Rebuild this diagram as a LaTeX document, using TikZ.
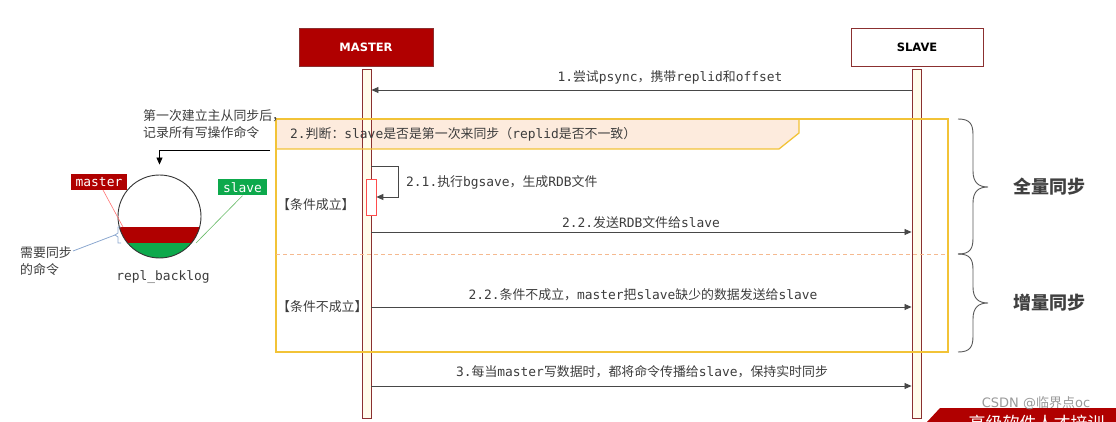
\documentclass[tikz,border=0pt]{standalone}
\usepackage{fontspec}
\setmainfont{DejaVu Sans Mono}
\newfontfamily\zhf{Noto Sans CJK SC}
\newfontfamily\hdf{DejaVu Sans}
\usetikzlibrary{arrows.meta,calc}
\newcommand\zh[1]{{\zhf #1}}
\definecolor{mred}{HTML}{B00000}
\definecolor{lline}{HTML}{8B3030}
\definecolor{cream}{HTML}{FFFCEB}
\definecolor{framec}{HTML}{F2C337}
\definecolor{tabfill}{HTML}{FDEBDD}
\definecolor{txt}{HTML}{3C3C3C}
\definecolor{grn}{HTML}{0DA94C}
\definecolor{dashc}{HTML}{F5B98F}
\definecolor{bluel}{HTML}{8CA8D0}
\tikzset{
  msg/.style={draw=black!72, line width=0.8pt, -{Triangle[length=7pt,width=6pt]}},
  lbl/.style={text=txt, inner sep=0pt},
  lifeline/.style={draw=lline, fill=cream, line width=0.9pt, minimum width=9pt, minimum height=349pt, inner sep=0pt},
  headbox/.style={draw=lline, line width=0.9pt, minimum width=134pt, minimum height=38pt, font=\hdf\bfseries\fontsize{11.5}{13}\selectfont},
  tagbox/.style={text=white, inner sep=0pt, minimum height=16pt},
  bracec/.style={draw=black!65, line width=0.9pt},
}
\begin{document}
\begin{tikzpicture}[x=1pt,y=-1pt,font=\fontsize{12.9}{15}\selectfont]
\useasboundingbox (0,0) rectangle (1116,422);

% header boxes
\node[headbox, fill=mred, text=white] (master) at (366,47) {MASTER};
\node[headbox, fill=white, text=black, minimum width=132pt] (slave) at (917,47) {SLAVE};

% tab fill (under lifelines)
\fill[tabfill] (276,119) -- (799,119) -- (799,133) -- (779,149) -- (276,149) -- cycle;

% lifelines
\node[lifeline] (mlife) at (366.5,243.5) {};
\node[lifeline] (slife) at (916.5,243.5) {};

% frame
\draw[framec, line width=1.3pt] (276,119) rectangle (948,352);
\draw[framec, line width=1.3pt] (799,119) -- (799,133) -- (779,149) -- (276,149);
\draw[dashc, line width=0.8pt, dash pattern=on 4pt off 3pt] (276,254) -- (948,254);

\node[lbl, anchor=west] (q2) at (290,134) {2.\zh{判断：}slave\zh{是否是第一次来同步（}replid\zh{是否不一致）}};

% message 1
\coordinate (y1) at (640,90);
\draw[msg] (slife.west |- y1) -- (mlife.east |- y1);
\node[lbl] (l1) at (670,77) {1.\zh{尝试}psync\zh{，携带}replid\zh{和}offset};

% self call 2.1
\node[draw=red!70!white, fill=white, line width=0.7pt, minimum width=10pt, minimum height=36pt, inner sep=0pt] (act) at (371,197) {};
\coordinate (sc) at (398,166);
\draw[msg] (mlife.east |- sc) -- (sc) -- (sc |- act.east) -- (act.east);
\node[lbl, anchor=west] (l21) at (406,182) {2.1.\zh{执行}bgsave\zh{，生成}RDB\zh{文件}};
\node[lbl, anchor=west] (c1) at (277,205) {\zh{【条件成立】}};

% 2.2
\coordinate (y22) at (640,232);
\draw[msg] (mlife.east |- y22) -- (slife.west |- y22);
\node[lbl] (l22) at (641,223) {2.2.\zh{发送}RDB\zh{文件给}slave};

% 2.2 b
\node[lbl, anchor=west] (c2) at (277,307) {\zh{【条件不成立】}};
\coordinate (y22b) at (640,307);
\draw[msg] (mlife.east |- y22b) -- (slife.west |- y22b);
\node[lbl] (l22b) at (643,295) {2.2.\zh{条件不成立，}master\zh{把}slave\zh{缺少的数据发送给}slave};

% 3
\coordinate (y3) at (640,386);
\draw[msg] (mlife.east |- y3) -- (slife.west |- y3);
\node[lbl] (l3) at (642,372) {3.\zh{每当}master\zh{写数据时，都将命令传播给}slave\zh{，保持实时同步}};

% braces
\draw[bracec] (958,119) .. controls (970,119) and (973,124) .. (973,135) -- (973,171)
   .. controls (973,182) and (978,187) .. (988,187)
   .. controls (978,187) and (973,192) .. (973,203) -- (973,238)
   .. controls (973,249) and (970,254) .. (958,254);
\draw[bracec] (958,254) .. controls (970,254) and (973,259) .. (973,270) -- (973,287)
   .. controls (973,298) and (978,303) .. (988,303)
   .. controls (978,303) and (973,308) .. (973,319) -- (973,336)
   .. controls (973,347) and (970,352) .. (958,352);
\node[text=black!75, font=\zhf\bfseries\fontsize{18}{20}\selectfont] (full) at (1049,187) {全量同步};
\node[text=black!75, font=\zhf\bfseries\fontsize{18}{20}\selectfont] (incr) at (1049,303) {增量同步};

% left side: repl_backlog
\begin{scope}
  \clip (159.5,216.5) circle [radius=41.5pt];
  \fill[mred] (110,227) rectangle (210,243);
  \fill[grn] (110,243) rectangle (210,262);
\end{scope}
\node[circle, draw=black!80, line width=0.9pt, minimum size=83pt, inner sep=0pt] (backlog) at (159.5,216.5) {};
\node[lbl] (rb) at (163,277) {repl\_backlog};

\node[lbl, align=left, anchor=west] (note) at (143,116) {\zh{第一次建立主从同步后，}};
\node[lbl, align=left, anchor=west] (note2) at (143,133) {\zh{记录所有写操作命令}};
\coordinate (nstart) at (270,150);
\draw[msg, draw=black] (nstart) -| ([yshift=10pt]backlog.north);

\node[tagbox, fill=mred, minimum width=56pt] (mlab) at (99,182) {master};
\node[tagbox, fill=grn, minimum width=49pt] (slab) at (242.5,187.5) {slave};
\coordinate (mpt) at (123,227);
\coordinate (spt) at (196,243);
\draw[red!55, line width=0.6pt] (103,190) -- (mpt);
\draw[green!55!black!60, line width=0.6pt] (slab.south) -- (spt);

\draw[bluel, line width=0.8pt] (121,227) -- (118,227) -- (118,233) -- (115,235) -- (118,237) -- (118,243) -- (121,243);
\coordinate (bt) at (115,235);
\draw[bluel, line width=0.8pt] (73,251) -- (bt);
\node[lbl, anchor=west] (need1) at (20,253) {\zh{需要同步}};
\node[lbl, anchor=west] (need2) at (20,270) {\zh{的命令}};

% watermark / banner
\fill[mred] (940,408) -- (1116,408) -- (1116,422) -- (927,422) -- cycle;
\begin{scope}
  \clip (927,408) rectangle (1116,422);
  \node[text=white, font=\zhf\fontsize{17}{18}\selectfont, anchor=west] (ban) at (965,423) {高级软件人才培训};
\end{scope}
\node[text=black!40, font=\hdf\fontsize{13}{14}\selectfont] (wm) at (1036,403) {CSDN @\zh{临界点}oc};
\end{tikzpicture}
\end{document}
